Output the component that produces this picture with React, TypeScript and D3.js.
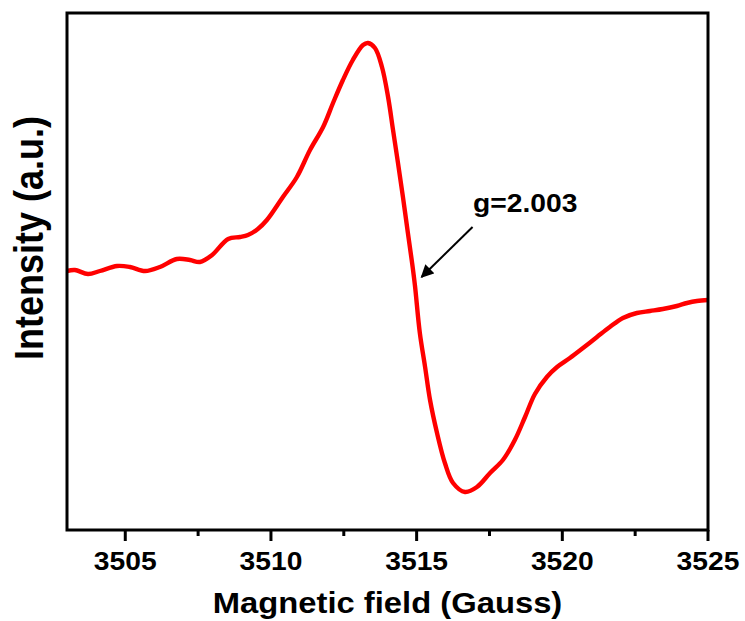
import React from "react";
import * as d3 from "d3";

const field = [
  3503.0, 3503.27, 3503.72, 3504.13, 3504.72, 3505.16, 3505.68, 3506.19, 3506.77, 3507.22,
  3507.56, 3507.98, 3508.53, 3508.94, 3509.21, 3509.55, 3509.86, 3510.41, 3510.89, 3511.34,
  3511.79, 3512.13, 3512.47, 3512.81, 3513.16, 3513.33, 3513.57, 3513.81, 3514.02, 3514.19,
  3514.36, 3514.53, 3514.7, 3514.84, 3514.94, 3515.11, 3515.29, 3515.46, 3515.7, 3515.97,
  3516.25, 3516.66, 3517.07, 3517.52, 3517.96, 3518.37, 3518.72, 3519.06, 3519.47, 3519.82,
  3520.26, 3520.71, 3521.19, 3521.63, 3522.08, 3522.56, 3523.01, 3523.45, 3523.93, 3524.28,
  3524.62, 3525.0,
];
const intensity = [
  0, 1, -3, 0, 5, 4, 0, 4, 12, 11,
  9, 16, 32, 34, 36, 42, 51, 74, 94, 121,
  144, 168, 191, 211, 226, 228, 223, 204, 174, 141,
  108, 74, 38, 9, -14, -62, -96, -129, -162, -192,
  -212, -221, -216, -202, -189, -169, -146, -123, -106, -96,
  -87, -77, -66, -56, -47, -42, -40, -38, -35, -32,
  -30, -29,
];
const xDomain = [3503, 3525];
const yDomain = [-259, 258];
const majorTicks = [3505, 3510, 3515, 3520, 3525];
const minorTicks = [3507.5, 3512.5, 3517.5, 3522.5];
const xTitle = "Magnetic field (Gauss)";
const yTitle = "Intensity (a.u.)";
const annotation = "g=2.003";
const annotationField = 3515.1;
const annotationValue = -6;

const W = 745;
const H = 621;
const L = 67, R = 708, T = 13, B = 530;
const FONT = "Arial, 'Liberation Sans', sans-serif";
const SX = 1.13;

export default function App() {
  const x = d3.scaleLinear().domain(xDomain).range([L, R]);
  const y = d3.scaleLinear().domain(yDomain).range([B, T]);
  const data = field.map((f, i) => [f, intensity[i]] as [number, number]);
  const line = d3
    .line<[number, number]>()
    .x((d) => x(d[0]))
    .y((d) => y(d[1]))
    .curve(d3.curveCatmullRom.alpha(0.5));

  const tipX = x(annotationField) + 2;
  const tipY = y(annotationValue);
  const tailX = tipX + 51;
  const tailY = tipY - 50;

  return (
    <svg
      width={W}
      height={H}
      style={{ position: "absolute", left: 0, top: 0, background: "#fff" }}
    >
      <defs>
        <marker
          id="arrow"
          viewBox="0 0 10 10"
          refX="9"
          refY="5"
          markerWidth="6.5"
          markerHeight="6.5"
          orient="auto"
        >
          <path d="M0,0 L10,5 L0,10 z" fill="#000" />
        </marker>
      </defs>
      <path d={line(data) || ""} fill="none" stroke="#ff0000" strokeWidth={4.4} strokeLinejoin="round" />
      <rect x={L} y={T} width={R - L} height={B - T} fill="none" stroke="#000" strokeWidth={3} />
      {majorTicks.map((t) => (
        <g key={t}>
          <line x1={x(t)} x2={x(t)} y1={B} y2={B + 11} stroke="#000" strokeWidth={3} />
          <text
            transform={`translate(${x(t)},570) scale(${SX},1)`}
            textAnchor="middle"
            fontFamily={FONT}
            fontWeight="bold"
            fontSize={25}
          >
            {t}
          </text>
        </g>
      ))}
      {minorTicks.map((t) => (
        <line key={t} x1={x(t)} x2={x(t)} y1={B} y2={B + 6} stroke="#000" strokeWidth={3} />
      ))}
      <text
        transform={`translate(${(L + R) / 2},613) scale(${SX},1)`}
        textAnchor="middle"
        fontFamily={FONT}
        fontWeight="bold"
        fontSize={29}
      >
        {xTitle}
      </text>
      <text
        transform={`translate(43,238) scale(${SX},1) rotate(-90)`}
        textAnchor="middle"
        fontFamily={FONT}
        fontWeight="bold"
        fontSize={36}
      >
        {yTitle}
      </text>
      <line
        x1={tailX}
        y1={tailY}
        x2={tipX}
        y2={tipY}
        stroke="#000"
        strokeWidth={2}
        markerEnd="url(#arrow)"
      />
      <text
        transform={`translate(473,212) scale(${SX},1)`}
        fontFamily={FONT}
        fontWeight="bold"
        fontSize={25}
      >
        {annotation}
      </text>
    </svg>
  );
}
